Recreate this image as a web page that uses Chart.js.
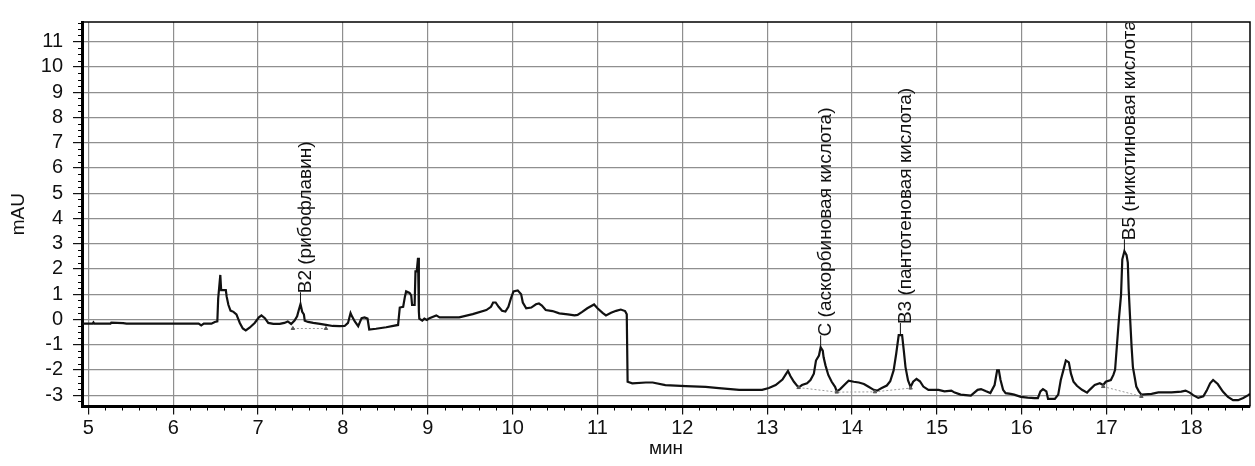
<!DOCTYPE html>
<html>
<head>
<meta charset="utf-8">
<script src="https://cdn.jsdelivr.net/npm/chart.js@4.4.1/dist/chart.umd.min.js"></script>
<style>
    html, body { margin: 0; padding: 0; background: #fff; }
    #wrap { width: 1255px; height: 466px; }
</style>
</head>
<body>
<div id="wrap"><canvas id="chromatogram" width="1255" height="466"></canvas></div>
<script>
(function () {
    "use strict";

    // retention time, min
    const retentionTime = [
        4.93, 5.05, 5.06, 5.07, 5.26, 5.27, 5.41, 5.45, 6.30, 6.33, 6.36, 6.45,
        6.49, 6.52, 6.53, 6.555, 6.565, 6.62, 6.63, 6.65, 6.675, 6.71, 6.745,
        6.785, 6.82, 6.855, 6.90, 6.96, 7.01, 7.04, 7.08, 7.12, 7.18, 7.255,
        7.31, 7.35, 7.39, 7.43, 7.46, 7.48, 7.50, 7.52, 7.54, 7.55, 7.59, 7.65,
        7.73, 7.80, 7.88, 7.96, 8.02, 8.06, 8.09, 8.11, 8.14, 8.18, 8.22, 8.255,
        8.29, 8.31, 8.39, 8.51, 8.65, 8.67, 8.71, 8.73, 8.745, 8.785, 8.805,
        8.815, 8.845, 8.855, 8.87, 8.885, 8.895, 8.90, 8.935, 8.96, 8.99, 9.02,
        9.10, 9.14, 9.37, 9.53, 9.69, 9.745, 9.77, 9.80, 9.835, 9.875, 9.915,
        9.95, 9.98, 10.01, 10.06, 10.10, 10.12, 10.16, 10.22, 10.275, 10.31,
        10.345, 10.39, 10.47, 10.55, 10.65, 10.73, 10.765, 10.82, 10.88, 10.96,
        11.0, 11.06, 11.10, 11.16, 11.22, 11.275, 11.325, 11.345, 11.355, 11.41,
        11.57, 11.65, 11.80, 12.04, 12.275, 12.43, 12.67, 12.94, 13.02, 13.10,
        13.18, 13.215, 13.245, 13.275, 13.315, 13.37, 13.41, 13.47, 13.51, 13.55,
        13.575, 13.61, 13.63, 13.655, 13.665, 13.687, 13.72, 13.76, 13.80, 13.82,
        13.86, 13.92, 13.96, 14.02, 14.08, 14.14, 14.195, 14.255, 14.295, 14.35,
        14.41, 14.45, 14.49, 14.52, 14.55, 14.59, 14.61, 14.63, 14.66, 14.69,
        14.72, 14.76, 14.80, 14.84, 14.90, 15.02, 15.09, 15.17, 15.21, 15.28,
        15.40, 15.48, 15.52, 15.58, 15.63, 15.68, 15.71, 15.73, 15.75, 15.78,
        15.81, 15.87, 15.91, 15.99, 16.07, 16.15, 16.19, 16.22, 16.25, 16.29,
        16.31, 16.39, 16.43, 16.46, 16.49, 16.52, 16.555, 16.58, 16.61, 16.65,
        16.71, 16.77, 16.80, 16.86, 16.92, 16.96, 16.99, 17.05, 17.08, 17.10,
        17.12, 17.146, 17.17, 17.185, 17.21, 17.235, 17.25, 17.26, 17.275,
        17.295, 17.31, 17.33, 17.35, 17.38, 17.41, 17.53, 17.61, 17.765, 17.88,
        17.93, 17.98, 18.02, 18.08, 18.14, 18.18, 18.22, 18.255, 18.31, 18.37,
        18.43, 18.49, 18.55, 18.61, 18.67, 18.69,
    ];

    // detector signal, mAU
    const signal = [
        -0.17, -0.17, -0.12, -0.17, -0.17, -0.13, -0.15, -0.17, -0.17, -0.24, -0.17, -0.17,
        -0.10, -0.08, 0.83, 1.76, 1.16, 1.16, 0.90, 0.58, 0.35, 0.30, 0.20,
        -0.14, -0.36, -0.44, -0.33, -0.14, 0.08, 0.16, 0.05, -0.14, -0.18, -0.18,
        -0.14, -0.08, -0.18, -0.05, 0.12, 0.37, 0.60, 0.30, 0.20, -0.05, -0.10, -0.14,
        -0.18, -0.22, -0.26, -0.27, -0.26, -0.14, 0.25, 0.10, -0.08, -0.27, 0.05, 0.08,
        0.03, -0.40, -0.37, -0.31, -0.22, 0.47, 0.50, 0.89, 1.11, 1.05, 0.95,
        0.57, 0.57, 1.90, 1.90, 2.44, 0.30, 0.03, -0.05, 0.03, -0.02, 0.05,
        0.16, 0.08, 0.08, 0.21, 0.37, 0.50, 0.67, 0.67, 0.50, 0.34, 0.31,
        0.50, 0.83, 1.11, 1.15, 1.00, 0.67, 0.44, 0.47, 0.60, 0.63,
        0.55, 0.37, 0.33, 0.24, 0.20, 0.16, 0.18, 0.30, 0.44, 0.59,
        0.44, 0.26, 0.16, 0.26, 0.34, 0.39, 0.33, 0.20, -2.47, -2.53,
        -2.50, -2.50, -2.60, -2.64, -2.67, -2.72, -2.79, -2.79, -2.72, -2.60,
        -2.38, -2.20, -2.04, -2.25, -2.47, -2.70, -2.60, -2.53, -2.40, -2.15,
        -1.63, -1.43, -1.11, -1.24, -1.50, -1.82, -2.20, -2.47, -2.67, -2.85,
        -2.76, -2.56, -2.43, -2.47, -2.50, -2.56, -2.67, -2.79, -2.82, -2.72,
        -2.62, -2.45, -2.02, -1.37, -0.62, -0.62, -1.24, -1.89, -2.42, -2.68,
        -2.47, -2.36, -2.45, -2.66, -2.79, -2.79, -2.85, -2.82, -2.90, -2.98,
        -3.02, -2.79, -2.76, -2.85, -2.92, -2.60, -2.02, -2.02, -2.40, -2.79,
        -2.92, -2.95, -2.98, -3.07, -3.10, -3.12, -3.12, -2.85, -2.76, -2.85,
        -3.15, -3.15, -2.98, -2.40, -2.02, -1.63, -1.70, -2.15, -2.47, -2.63,
        -2.79, -2.90, -2.79, -2.60, -2.53, -2.60, -2.47, -2.40, -2.20, -2.00,
        -1.11, 0.05, 0.96, 2.38, 2.70, 2.55, 2.25, 1.21, 0.18,
        -1.11, -1.89, -2.27, -2.66, -2.85, -2.98, -2.95, -2.89, -2.89, -2.86,
        -2.82, -2.90, -3.00, -3.11, -3.05, -2.82, -2.53, -2.40, -2.56, -2.86,
        -3.07, -3.20, -3.20, -3.11, -3.00, -2.95,
    ];

    // integration baselines (null breaks the line)
    const baselineTime = [7.41, 7.80, null, 13.37, 13.82, 14.27, 14.69, null, 16.96, 17.41];
    const baselineSignal = [-0.36, -0.36, null, -2.70, -2.88, -2.87, -2.72, null, -2.66, -3.05];

    // identified peaks
    const peakNames = [
        "B2 (рибофлавин)",
        "C (аскорбиновая кислота)",
        "B3 (пантотеновая кислота)",
        "B5 (никотиновая кислота",
    ];
    const peakTimes = [7.50, 13.63, 14.57, 17.21];
    const peakHeights = [0.60, -1.11, -0.62, 2.70];

    // axes
    const xTicks = [5, 6, 7, 8, 9, 10, 11, 12, 13, 14, 15, 16, 17, 18];
    const yTicks = [-3, -2, -1, 0, 1, 2, 3, 4, 5, 6, 7, 8, 9, 10, 11];
    const xRange = [4.925, 18.69];
    const yRange = [-3.45, 11.78];

    const FONT = "'Liberation Sans', Arial, sans-serif";

    const tracePoints = retentionTime.map((t, i) => ({ x: t, y: signal[i] }));
    const basePoints = baselineTime.map((t, i) => ({ x: t, y: baselineSignal[i] }));

    // frame, minor ticks, peak labels
    const decorations = {
        id: "decorations",
        afterDraw(chart) {
            const { ctx, chartArea: a, scales } = chart;
            const x = scales.x;
            const y = scales.y;

            ctx.save();
            ctx.strokeStyle = "#000";
            ctx.lineWidth = 1;
            for (let v = 5; v < xRange[1]; v += 0.2) {
                if (Math.abs(v - Math.round(v)) < 0.01) continue;
                const px = Math.round(x.getPixelForValue(v)) + 0.5;
                ctx.beginPath();
                ctx.moveTo(px, a.bottom);
                ctx.lineTo(px, a.bottom + 4);
                ctx.stroke();
            }
            for (let v = -3.25; v < yRange[1]; v += 0.25) {
                if (Math.abs(v - Math.round(v)) < 0.01) continue;
                const py = Math.round(y.getPixelForValue(v)) + 0.5;
                ctx.beginPath();
                ctx.moveTo(a.left - 4, py);
                ctx.lineTo(a.left, py);
                ctx.stroke();
            }

            // top and right border
            ctx.lineWidth = 1.5;
            ctx.beginPath();
            ctx.moveTo(a.left, a.top);
            ctx.lineTo(a.right, a.top);
            ctx.lineTo(a.right, a.bottom);
            ctx.stroke();

            // peak labels
            ctx.beginPath();
            ctx.rect(a.left, a.top + 1, a.right - a.left, a.bottom - a.top);
            ctx.clip();
            ctx.fillStyle = "#111";
            ctx.strokeStyle = "#111";
            ctx.lineWidth = 1;
            ctx.font = "19px " + FONT;
            ctx.textAlign = "left";
            ctx.textBaseline = "middle";
            peakNames.forEach((name, i) => {
                const px = x.getPixelForValue(peakTimes[i]);
                const py = y.getPixelForValue(peakHeights[i]);
                ctx.beginPath();
                ctx.moveTo(px, py);
                ctx.lineTo(px, py - 12);
                ctx.stroke();
                ctx.save();
                ctx.translate(px + 5, py - 11);
                ctx.rotate(-Math.PI / 2);
                ctx.fillText(name, 0, 0);
                ctx.restore();
            });
            ctx.restore();
        },
    };

    new Chart(document.getElementById("chromatogram"), {
        type: "line",
        data: {
            datasets: [
                {
                    label: "baseline",
                    data: basePoints,
                    borderColor: "#9a9a9a",
                    borderWidth: 1,
                    borderDash: [2, 2],
                    pointStyle: "triangle",
                    pointRadius: 2,
                    pointBackgroundColor: "#555",
                    pointBorderColor: "#555",
                    spanGaps: false,
                    tension: 0,
                },
                {
                    label: "mAU",
                    data: tracePoints,
                    borderColor: "#111",
                    borderWidth: 2.2,
                    pointRadius: 0,
                    tension: 0,
                },
            ],
        },
        options: {
            responsive: false,
            animation: false,
            devicePixelRatio: 1,
            layout: {
                padding: { top: 15, right: 3, bottom: 0, left: 0 },
            },
            plugins: {
                legend: { display: false },
                tooltip: { enabled: false },
            },
            scales: {
                x: {
                    type: "linear",
                    min: xRange[0],
                    max: xRange[1],
                    afterFit: (s) => { s.height = 59.5; },
                    afterBuildTicks: (s) => { s.ticks = xTicks.map((v) => ({ value: v })); },
                    ticks: {
                        color: "#111",
                        font: { family: FONT, size: 20 },
                        padding: 2,
                        maxRotation: 0,
                        autoSkip: false,
                    },
                    grid: {
                        color: "#8f8f8f",
                        lineWidth: 1.2,
                        tickLength: 8,
                        tickColor: "#111",
                    },
                    border: { display: true, color: "#000", width: 3 },
                    title: {
                        display: true,
                        text: "мин",
                        color: "#111",
                        font: { family: FONT, size: 19 },
                        padding: { top: 0, bottom: 6 },
                    },
                },
                y: {
                    type: "linear",
                    min: yRange[0],
                    max: yRange[1],
                    afterFit: (s) => { s.width = 82; },
                    afterBuildTicks: (s) => { s.ticks = yTicks.map((v) => ({ value: v })); },
                    ticks: {
                        color: "#111",
                        font: { family: FONT, size: 20 },
                        padding: 10,
                        autoSkip: false,
                    },
                    grid: {
                        color: "#8f8f8f",
                        lineWidth: 1.2,
                        tickLength: 9,
                        tickColor: "#111",
                    },
                    border: { display: true, color: "#000", width: 3 },
                    title: {
                        display: true,
                        text: "mAU",
                        color: "#111",
                        font: { family: FONT, size: 19 },
                        padding: { top: 7, bottom: 0 },
                    },
                },
            },
        },
        plugins: [decorations],
    });
})();
</script>
</body>
</html>
